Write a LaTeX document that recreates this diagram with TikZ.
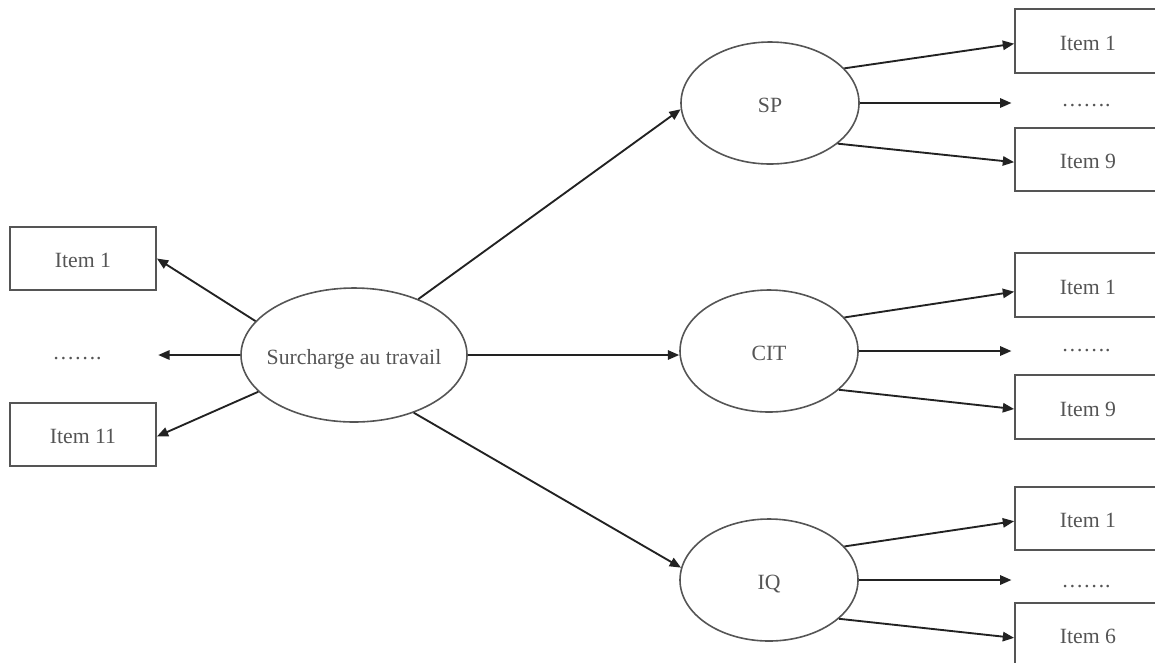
\documentclass[tikz,border=0pt]{standalone}
\usepackage{fontspec}
\setmainfont{Liberation Serif}
\usetikzlibrary{arrows.meta,shapes.geometric}
\definecolor{ink}{HTML}{555555}
\definecolor{edge}{HTML}{222222}
\tikzset{
  labelfont/.style={text=ink, font=\fontsize{16.3}{19}\selectfont, text height=14pt, text depth=0pt},
  itembox/.style={draw=ink, line width=1.3pt, minimum width=109.5pt, minimum height=47.5pt,
    inner sep=0pt, labelfont},
  dotsnode/.style={minimum width=40pt, minimum height=20pt, inner sep=0pt, labelfont},
  factor/.style={ellipse, draw=ink, line width=1.2pt, minimum width=133.5pt, minimum height=91.5pt,
    inner xsep=-10pt, inner ysep=0pt, labelfont},
  mainfactor/.style={factor, minimum width=169.5pt, minimum height=100.5pt, inner xsep=-30pt},
  link/.style={draw=edge, line width=1.4pt, -{Triangle[length=8.5pt,width=7pt]}},
}
\begin{document}
\begin{tikzpicture}[x=0.75pt,y=-0.75pt]
  \useasboundingbox (0,0) rectangle (1155,662);
  \clip (0,0) rectangle (1155,662);

  % central construct
  \node[mainfactor] (c) at (354,355) {Surcharge au travail};

  % left-hand items
  \node[itembox] (l1) at (83,258.5) {Item 1};
  \node[dotsnode] (ld) at (77,350) {…….};
  \node[itembox] (l11) at (83,434.5) {Item 11};

  % three sub-dimensions
  \node[factor] (sp) at (770,103) {SP};
  \node[factor] (cit) at (769,351) {CIT};
  \node[factor] (iq) at (769,580) {IQ};

  % right-hand items for SP
  \node[itembox] (sp1) at (1088,41) {Item 1};
  \node[dotsnode] (spd) at (1086,97) {…….};
  \node[itembox] (sp9) at (1088,159.5) {Item 9};

  % right-hand items for CIT
  \node[itembox] (cit1) at (1088,285) {Item 1};
  \node[dotsnode] (citd) at (1086,342) {…….};
  \node[itembox] (cit9) at (1088,407) {Item 9};

  % right-hand items for IQ
  \node[itembox] (iq1) at (1088,518.5) {Item 1};
  \node[dotsnode] (iqd) at (1086,578) {…….};
  \node[itembox] (iq6) at (1088,634.5) {Item 6};

  % central construct to its own items
  \draw[link] (c.161.6) -- (l1.east);
  \draw[link] (c.west) -- ([xshift=1pt]c.west -| l1.east);
  \draw[link] (c.201.4) -- ([yshift=-1.5pt]l11.east);

  % central construct to sub-dimensions
  \draw[link] (c.41.2) -- (sp.184);
  \draw[link] (c.east) -- (c.east -| cit.west);
  \draw[link] (c.-44.5) -- (iq.172);

  % sub-dimensions to their items
  \draw[link] (sp.25) -- ([yshift=-2pt]sp1.west);
  \draw[link] (sp.east) -- ([xshift=-2pt]sp.east -| sp1.west);
  \draw[link] (sp.-31) -- ([yshift=-2pt]sp9.west);

  \draw[link] (cit.24) -- ([yshift=-5pt]cit1.west);
  \draw[link] (cit.east) -- ([xshift=-2pt]cit.east -| cit1.west);
  \draw[link] (cit.-29.5) -- ([yshift=-1.5pt]cit9.west);

  \draw[link] (iq.24.7) -- ([yshift=-2pt]iq1.west);
  \draw[link] (iq.east) -- ([xshift=-2pt]iq.east -| iq1.west);
  \draw[link] (iq.-29.5) -- ([yshift=-2.5pt]iq6.west);
\end{tikzpicture}
\end{document}
